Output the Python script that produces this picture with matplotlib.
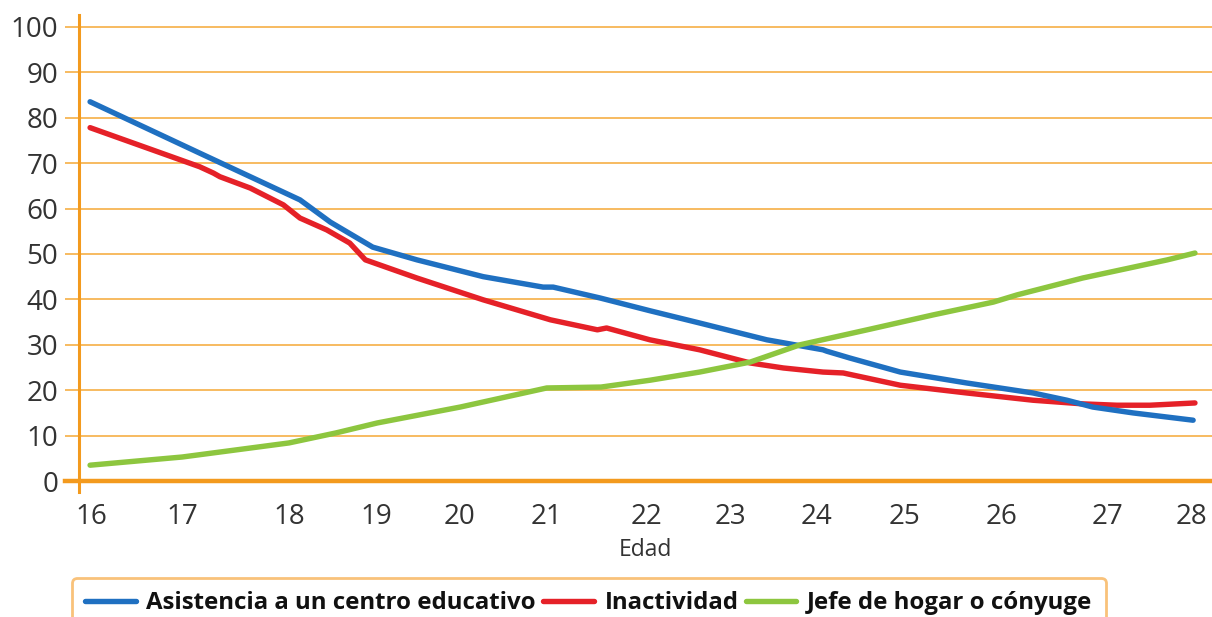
import matplotlib
matplotlib.use("Agg")
from matplotlib import pyplot as plt

plt.rcParams['font.family'] = ['Open Sans', 'DejaVu Sans']

# Edad (años) y porcentaje de jóvenes en cada situación
edad_asistencia = [16.0, 17.19, 18.28, 18.61, 19.07, 19.55, 20.27, 20.92, 21.03,
                   21.54, 22.08, 22.62, 23.35, 23.96, 24.0, 24.25, 24.80, 25.52, 26.24,
                   26.61, 26.89, 27.33, 27.98]
asistencia = [83.5, 72.2, 61.9, 57.0, 51.5, 48.7, 45.0, 42.7, 42.7,
              40.3, 37.5, 34.8, 31.1, 28.9, 28.6, 27.1, 24.0, 21.6, 19.4,
              17.8, 16.3, 15.0, 13.4]

edad_inactividad = [16.0, 17.19, 17.34, 17.41, 17.74, 18.10, 18.28, 18.57, 18.82, 18.99,
                    19.55, 20.27, 21.0, 21.51, 21.61, 22.08, 22.62, 23.17, 23.53, 23.96,
                    24.18, 24.80, 25.52, 26.24, 26.78, 27.15, 27.51, 28.0]
inactividad = [77.8, 69.2, 67.8, 67.0, 64.5, 60.8, 57.9, 55.3, 52.4, 48.7,
               44.7, 39.9, 35.5, 33.3, 33.7, 31.1, 28.9, 26.0, 24.9, 24.0,
               23.8, 21.1, 19.4, 17.8, 17.0, 16.7, 16.7, 17.2]

edad_jefe = [16.0, 17.0, 18.16, 18.67, 19.12, 20.02, 20.96, 21.55, 22.08, 22.62,
             23.17, 23.71, 24.44, 25.16, 25.81, 26.07, 26.78, 27.70, 28.0]
jefe_hogar = [3.5, 5.3, 8.4, 10.6, 12.8, 16.3, 20.5, 20.7, 22.2, 24.0,
              26.2, 30.0, 33.3, 36.6, 39.4, 41.0, 44.7, 48.7, 50.2]

etiquetas_edad = ['16', '17', '18', '19', '20', '21', '22', '23', '24', '25', '26', '27', '28']
# posiciones de las etiquetas del eje x
pos_etiquetas = [16.01, 17.0, 18.16, 19.11, 20.01, 20.96, 22.04, 22.96, 23.89, 24.85,
                 25.90, 27.05, 27.96]

NARANJA = '#F39A1E'
GRILLA = '#F6AF45'
AZUL = '#1F70C1'
ROJO = '#E52128'
VERDE = '#8DC63F'
TEXTO = '#333333'

fig = plt.figure(figsize=(12.12, 6.17), dpi=100)
ax = fig.add_axes([0.0652, 0.2026, 0.9348, 0.7731])

ax.plot(edad_asistencia, asistencia, color=AZUL, lw=3.9, solid_joinstyle='round',
        solid_capstyle='round', label='Asistencia a un centro educativo', zorder=4)
ax.plot(edad_inactividad, inactividad, color=ROJO, lw=3.9, solid_joinstyle='round',
        solid_capstyle='round', label='Inactividad', zorder=3)
ax.plot(edad_jefe, jefe_hogar, color=VERDE, lw=3.9, solid_joinstyle='round',
        solid_capstyle='round', label='Jefe de hogar o cónyuge', zorder=5)

ax.set_xlim(15.88, 28.185)
ax.set_ylim(-2.4, 102.6)

ax.set_yticks(range(0, 101, 10))
ax.yaxis.grid(True, color=GRILLA, lw=1.2)
ax.set_axisbelow(True)
# línea del cero, más gruesa y saliendo un poco a la izquierda del eje
ax.plot([-0.0125, 1], [0, 0], transform=ax.get_yaxis_transform(), color=NARANJA,
        lw=3.2, clip_on=False, zorder=2)
ax.tick_params(axis='y', length=10, width=1.2, color=GRILLA, pad=5,
               labelsize=20, labelcolor=TEXTO)

ax.set_xticks(pos_etiquetas)
ax.set_xticklabels(etiquetas_edad)
ax.tick_params(axis='x', length=0, pad=8, labelsize=20, labelcolor=TEXTO)
ax.set_xlabel('Edad', fontsize=16.5, color=TEXTO, labelpad=5)

for lado in ['top', 'right', 'bottom']:
    ax.spines[lado].set_visible(False)
ax.spines['left'].set_color(NARANJA)
ax.spines['left'].set_linewidth(2.2)

leg = fig.legend(loc='upper left', bbox_to_anchor=(72 / 1212, 1 - 578 / 617),
                 borderaxespad=0, ncol=3, frameon=True, fancybox=True,
                 handlelength=2.1, handletextpad=0.45, columnspacing=0.3,
                 borderpad=0.55, prop={'weight': 'bold', 'size': 17.3})
leg.get_frame().set_edgecolor('#F9C27A')
leg.get_frame().set_linewidth(2.0)
leg.get_frame().set_alpha(1.0)
for t in leg.get_texts():
    t.set_color('#111111')

plt.savefig('out.png', dpi=100)
